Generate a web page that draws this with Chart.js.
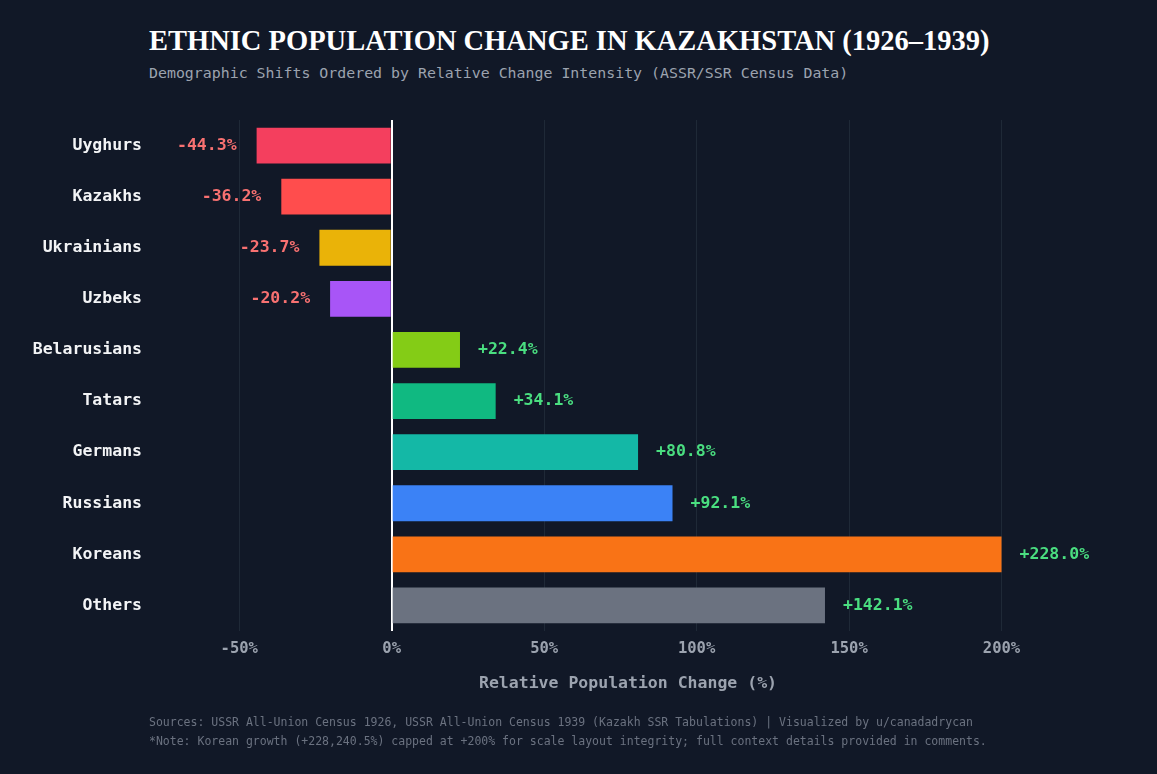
<!DOCTYPE html>
<html>
<head>
<meta charset="utf-8">
<script src="https://cdn.jsdelivr.net/npm/chart.js@4"></script>
<style>
  html, body { margin: 0; padding: 0; background: #111827; }
  body { width: 1157px; height: 774px; position: relative; overflow: hidden; }
  #wrap { position: absolute; left: 0; top: 0; width: 1157px; height: 774px; }
  .title { position: absolute; left: 149px; top: 25px; font-family: "Liberation Serif", serif; font-weight: bold; font-size: 28.5px; color: #ffffff; white-space: nowrap; }
  .sub { position: absolute; left: 149px; top: 64px; font-family: "DejaVu Sans Mono", monospace; font-size: 14.9px; color: #9ca3af; white-space: nowrap; }
  .foot { position: absolute; left: 149px; font-family: "DejaVu Sans Mono", monospace; font-size: 11.5px; color: #6b7280; white-space: nowrap; }
</style>
</head>
<body>
<div class="title">ETHNIC POPULATION CHANGE IN KAZAKHSTAN (1926–1939)</div>
<div class="sub">Demographic Shifts Ordered by Relative Change Intensity (ASSR/SSR Census Data)</div>
<div id="wrap"><canvas id="myChart" width="1157" height="774"></canvas></div>
<div class="foot" style="top:715px">Sources: USSR All-Union Census 1926, USSR All-Union Census 1939 (Kazakh SSR Tabulations) | Visualized by u/canadadrycan</div>
<div class="foot" style="top:734px">*Note: Korean growth (+228,240.5%) capped at +200% for scale layout integrity; full context details provided in comments.</div>
<script>
const graph = document.getElementById('myChart')

const groups = ['Uyghurs', 'Kazakhs', 'Ukrainians', 'Uzbeks', 'Belarusians', 'Tatars', 'Germans', 'Russians', 'Koreans', 'Others']
const changes = [-44.3, -36.2, -23.7, -20.2, 22.4, 34.1, 80.8, 92.1, 200, 142.1]
const valueLabels = ['-44.3%', '-36.2%', '-23.7%', '-20.2%', '+22.4%', '+34.1%', '+80.8%', '+92.1%', '+228.0%', '+142.1%']
const barColors = ['#f43f5e', '#ff4d4d', '#eab308', '#a855f7', '#84cc16', '#10b981', '#14b8a6', '#3b82f6', '#f97316', '#6b7280']
const tickValues = [-50, 0, 50, 100, 150, 200]

const mono = "'DejaVu Sans Mono', monospace"

// labels next to the bar ends
const barLabels = {
    id: 'barLabels',
    afterDatasetsDraw(chart) {
        const ctx = chart.ctx
        const meta = chart.getDatasetMeta(0)
        ctx.save()
        ctx.font = 'bold 16.5px ' + mono
        ctx.textBaseline = 'middle'
        meta.data.forEach((bar, i) => {
            if (changes[i] < 0) {
                ctx.fillStyle = '#f87171'
                ctx.textAlign = 'right'
                ctx.fillText(valueLabels[i], bar.x - 20, bar.y)
            } else {
                ctx.fillStyle = '#4ade80'
                ctx.textAlign = 'left'
                ctx.fillText(valueLabels[i], bar.x + 18, bar.y)
            }
        })
        ctx.restore()
    }
}

const config = {
    type: 'bar',
    data: {
        labels: groups,
        datasets: [{
            data: changes,
            backgroundColor: barColors,
            borderWidth: 0,
            categoryPercentage: 1,
            barPercentage: 0.7
        }]
    },
    options: {
        indexAxis: 'y',
        responsive: false,
        animation: false,
        layout: { padding: { top: 120, right: 64, left: 0, bottom: 0 } },
        plugins: { legend: { display: false }, tooltip: { enabled: false } },
        scales: {
            x: {
                min: -75,
                max: 230,
                afterBuildTicks: (scale) => {
                    scale.ticks = tickValues.map((v) => ({ value: v }))
                },
                afterFit: (scale) => { scale.height = 143 },
                border: { display: false },
                grid: {
                    drawTicks: false,
                    color: (c) => c.tick && c.tick.value === 0 ? '#ffffff' : '#1f2937',
                    lineWidth: (c) => c.tick && c.tick.value === 0 ? 2 : 1
                },
                ticks: {
                    padding: 9,
                    color: '#9ca3af',
                    font: { family: mono, size: 15.5, weight: 'bold' },
                    callback: (v) => v + '%'
                },
                title: {
                    display: true,
                    text: 'Relative Population Change (%)',
                    color: '#9ca3af',
                    font: { family: mono, size: 16.5, weight: 'bold' },
                    padding: { top: 0, bottom: 80 }
                }
            },
            y: {
                afterFit: (scale) => { scale.width = 163 },
                border: { display: false },
                grid: { display: false, drawTicks: false },
                ticks: {
                    padding: 21,
                    color: '#f3f4f6',
                    font: { family: mono, size: 16.5, weight: 'bold' }
                }
            }
        }
    },
    plugins: [barLabels]
}

new Chart(graph, config)
</script>
</body>
</html>
